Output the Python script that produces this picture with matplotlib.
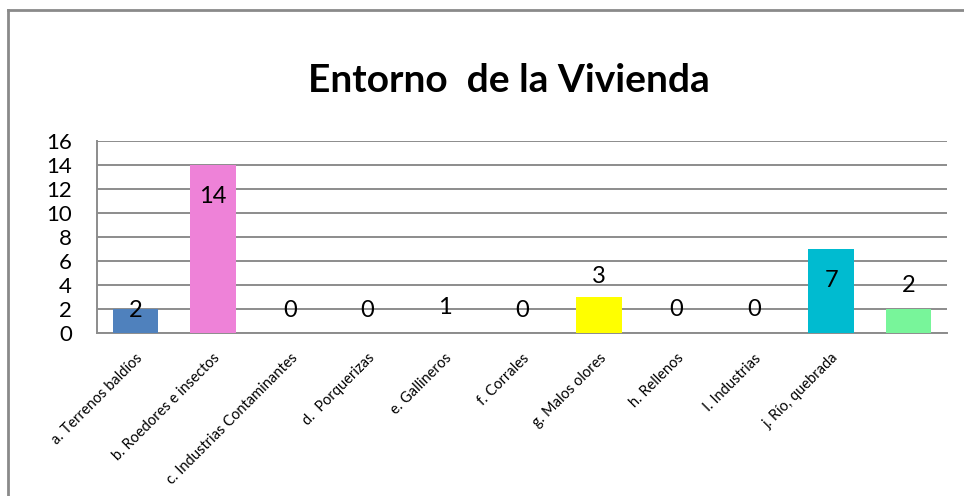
import matplotlib
matplotlib.use("Agg")
import matplotlib.pyplot as plt
from matplotlib.lines import Line2D

categories = ["a. Terrenos baldíos", "b. Roedores e insectos", "c. Industrias Contaminantes",
              "d.  Porquerizas", "e. Gallineros", "f. Corrales", "g. Malos olores",
              "h. Rellenos", "I. Industrias", "j. Río, quebrada", ""]
values = [2, 14, 0, 0, 1, 0, 3, 0, 0, 7, 2]
labels = ["2", "14", "0", "0", "1", "0", "3", "0", "0", "7", "2"]
yticks = [0, 2, 4, 6, 8, 10, 12, 14, 16]

# styles
colors = ["#4F81BD", "#EE82D8", "none", "none", "none", "none", "#FFFF00",
          "none", "none", "#00BBD0", "#78F59A"]
label_offset = [-0.1, -2.6, 1.9, 1.9, 1.1, 1.9, 1.7, 1.95, 1.95, -2.6, 2.0]

FONT = "Lato"
plt.rcParams['font.family'] = [FONT, 'DejaVu Sans']

W, H = 964, 496
fig = plt.figure(figsize=(W / 100, H / 100), dpi=100)
fig.patch.set_facecolor("white")
ax = fig.add_axes([97 / W, 1 - 333 / H, (947 - 97) / W, (333 - 141) / H])

x = list(range(len(categories)))
ax.bar(x, values, width=0.59, color=colors, zorder=3)
ax.set_xlim(-0.5, len(categories) - 0.5)
ax.set_ylim(0, 16)
ax.set_yticks(yticks)
ax.set_yticklabels([str(t) for t in yticks], fontsize=16)
ax.yaxis.grid(True, color="#8c8c8c", linewidth=1.4, zorder=0)
ax.set_axisbelow(True)
ax.tick_params(axis="y", length=0, pad=18)
ax.tick_params(axis="x", length=0, pad=13)
ax.set_xticks(x)
ax.set_xticklabels(categories, rotation=45, ha="right", rotation_mode="anchor", fontsize=10.5)
for s in ["top", "right"]:
    ax.spines[s].set_visible(False)
for s in ["left", "bottom"]:
    ax.spines[s].set_color("#8c8c8c")
    ax.spines[s].set_linewidth(1.4)

for xi, v, lab, off in zip(x, values, labels, label_offset):
    ax.text(xi, v + off, lab, ha="center", va="center", fontsize=17, color="black", zorder=4)

fig.text(509 / W, 1 - 81 / H, "Entorno  de la Vivienda", ha="center", va="center",
         fontsize=28, fontweight="bold")

# outer chart border (top and left)
fig.add_artist(Line2D([7.5 / W, 1.0], [1 - 10 / H, 1 - 10 / H], color="#8a8a8a", linewidth=2,
                      transform=fig.transFigure))
fig.add_artist(Line2D([7.5 / W, 7.5 / W], [1 - 10 / H, 0], color="#8a8a8a", linewidth=2,
                      transform=fig.transFigure))

fig.savefig("out.png", dpi=100, facecolor="white")
